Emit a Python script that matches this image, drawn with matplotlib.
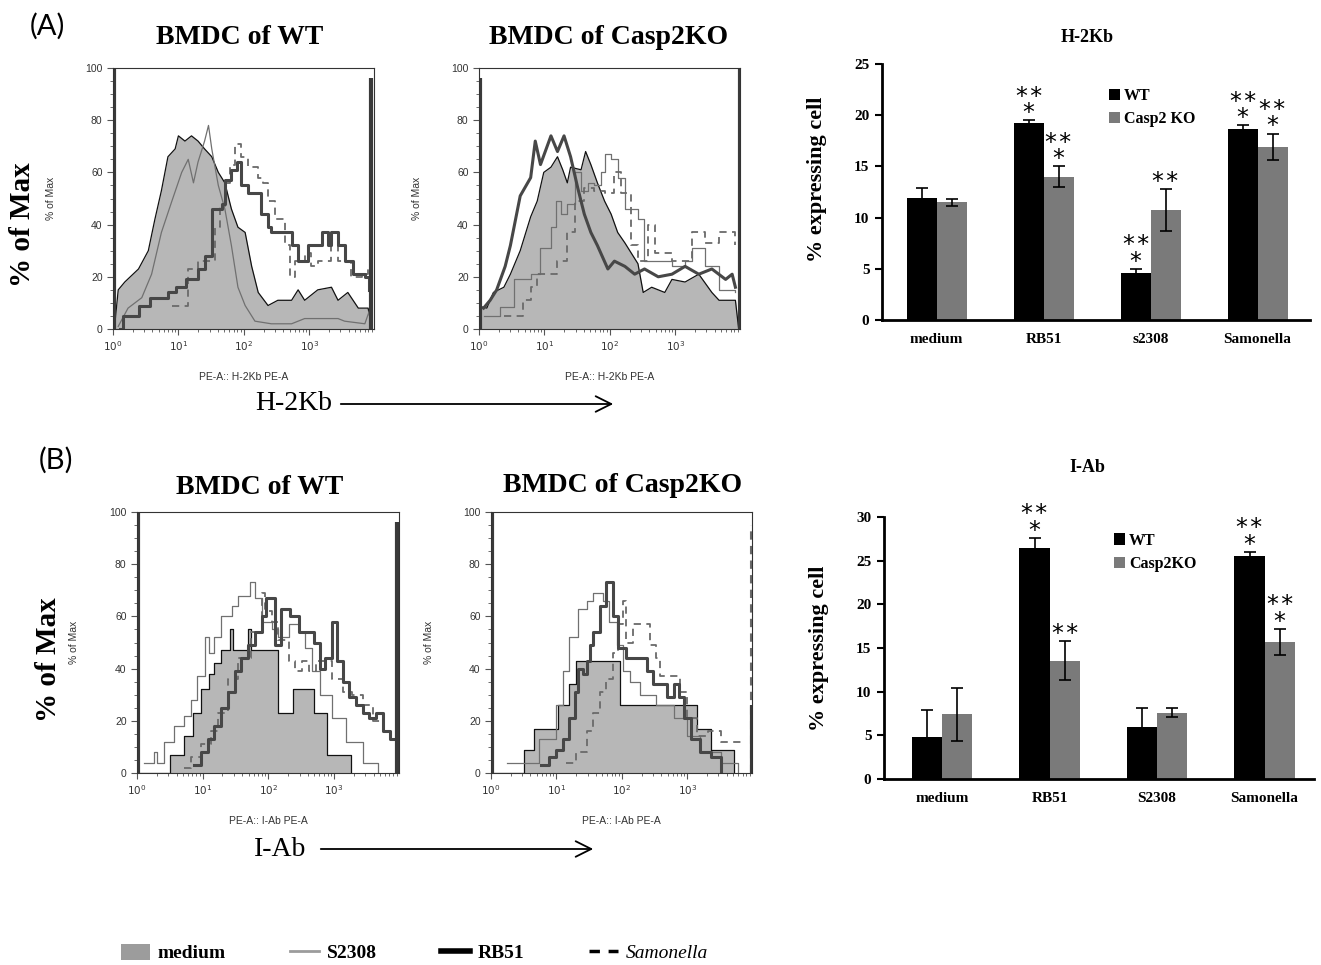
import matplotlib.pyplot as plt
import numpy as np
from matplotlib.lines import Line2D
from matplotlib.patches import Patch, FancyArrowPatch
from matplotlib.ticker import MultipleLocator

W, H = 1321, 965
SERIF = "Liberation Serif"
SANS = "Liberation Sans"

# ---------------- flow histograms (x = log10 PE-A, y = % of max) ----------------
# (A) H-2Kb, WT
a_wt_med_x = [0.0, 0.02, 0.08, 0.18, 0.39, 0.54, 0.64, 0.74, 0.84, 0.95, 1.0, 1.1, 1.2, 1.3, 1.4, 1.51, 1.61, 1.71,
              1.81, 1.91, 2.02, 2.12, 2.22, 2.37, 2.52, 2.73, 2.83, 2.93, 3.13, 3.34, 3.44, 3.59, 3.75, 3.9, 3.96]
a_wt_med_y = [0, 0, 15, 18, 23, 30, 42, 53, 66, 69, 74, 72, 74, 72, 69, 66, 60, 56,
              46, 39, 37, 24, 14, 9, 11, 11, 15, 11, 15, 16, 11, 14, 8, 8, 0]
a_wt_s2308_x = [0.08, 0.23, 0.44, 0.59, 0.74, 0.9, 1.05, 1.15, 1.23, 1.3, 1.4, 1.46, 1.51, 1.61, 1.71, 1.81, 1.91,
                2.02, 2.17, 2.42, 2.73, 2.93, 3.44, 3.54, 3.85, 3.92]
a_wt_s2308_y = [1, 8, 12, 21, 37, 49, 60, 65, 56, 64, 72, 78, 69, 55, 46, 32, 16, 9, 3, 2, 2, 4, 4, 3, 2, 7]
a_wt_rb51_x = [0.1, 0.16, 0.39, 0.56, 0.84, 0.97, 1.12, 1.3, 1.4, 1.51, 1.66, 1.71, 1.81, 1.89, 1.96, 2.07, 2.27,
               2.37, 2.42, 2.73, 2.83, 2.98, 3.19, 3.29, 3.34, 3.44, 3.54, 3.67, 3.85, 3.92]
a_wt_rb51_y = [0, 5, 9, 12, 14, 16, 19, 23, 28, 46, 48, 57, 61, 64, 55, 52, 44, 39, 37, 32, 26, 32, 37, 32, 37, 32,
               26, 21, 20, 15]
a_wt_sam_x = [0.9, 1.15, 1.3, 1.56, 1.63, 1.71, 1.79, 1.86, 1.96, 2.07, 2.22, 2.3, 2.37, 2.47, 2.63, 2.7, 2.78, 2.93,
              3.03, 3.13, 3.34, 3.44, 3.64, 3.8, 3.9]
a_wt_sam_y = [9, 23, 26, 39, 47, 56, 63, 71, 66, 62, 58, 56, 49, 42, 32, 20, 26, 29, 24, 26, 32, 26, 20, 21, 24]

# (A) H-2Kb, Casp2KO
a_ko_med_x = [0.02, 0.04, 0.12, 0.22, 0.38, 0.48, 0.63, 0.79, 0.89, 0.99, 1.1, 1.2, 1.28, 1.35, 1.4, 1.56, 1.63,
              1.71, 1.81, 1.92, 2.02, 2.12, 2.23, 2.33, 2.43, 2.51, 2.64, 2.84, 2.95, 3.15, 3.36, 3.56, 3.67, 3.92,
              3.97]
a_ko_med_y = [0, 8.5, 8, 14, 16, 21, 30, 43, 49, 60, 62, 66, 61, 56, 62, 61, 68, 63, 56, 49, 44, 37, 33, 29, 25,
              14, 16, 14, 19, 18, 21, 14, 11, 11, 0]
a_ko_s2308_x = [0.07, 0.32, 0.53, 0.63, 0.79, 0.94, 1.1, 1.17, 1.25, 1.35, 1.46, 1.56, 1.66, 1.76, 1.87, 1.92, 2.02,
                2.12, 2.23, 2.43, 2.53, 2.95, 3.15, 3.25, 3.46, 3.67, 3.92]
a_ko_s2308_y = [5, 8.5, 19, 19, 21, 31, 39, 49, 44, 48, 60, 53, 56, 55, 60, 67, 65, 58, 46, 42, 26, 24, 26, 31, 24,
                15, 14]
a_ko_rb51_x = [0.07, 0.17, 0.27, 0.4, 0.48, 0.63, 0.79, 0.86, 0.94, 1.1, 1.2, 1.3, 1.4, 1.51, 1.61, 1.71, 1.81, 1.97,
               2.07, 2.23, 2.38, 2.53, 2.74, 2.95, 3.15, 3.36, 3.56, 3.77, 3.87, 3.92]
a_ko_rb51_y = [8, 11, 15, 24, 32, 51, 58, 72, 63, 74, 68, 74, 66, 54, 44, 37, 32, 23, 26, 24, 21, 23, 20, 21, 24, 21,
               23, 19, 21, 16]
a_ko_sam_x = [0.38, 0.53, 0.68, 0.79, 0.89, 1.04, 1.2, 1.35, 1.46, 1.61, 1.76, 1.92, 2.07, 2.17, 2.33, 2.43, 2.59,
              2.69, 2.95, 3.15, 3.25, 3.46, 3.67, 3.92]
a_ko_sam_y = [5, 5, 11, 16, 21, 21, 26, 37, 49, 54, 53, 52, 60, 52, 32, 26, 40, 29, 26, 26, 37, 33, 37, 32]

# (B) I-Ab, WT
b_wt_med_x = [0.0, 0.51, 0.72, 0.85, 0.97, 1.1, 1.18, 1.28, 1.41, 1.46, 1.69, 1.74, 2.15, 2.38, 2.69, 2.9, 3.26]
b_wt_med_y = [0, 7, 14, 23, 32, 38, 42, 47, 55, 47, 55, 47, 23, 32, 23, 7, 0]
b_wt_s2308_x = [0.1, 0.26, 0.31, 0.41, 0.56, 0.72, 0.82, 0.92, 1.03, 1.1, 1.18, 1.28, 1.44, 1.54, 1.72, 1.79, 1.9,
                2.05, 2.15, 2.31, 2.46, 2.56, 2.67, 2.79, 2.97, 3.18, 3.44, 3.67]
b_wt_s2308_y = [4, 8, 4, 12, 18, 22, 28, 37, 52, 46, 52, 60, 64, 68, 73, 67, 58, 55, 52, 57, 54, 48, 39, 30, 21, 12,
                4, 0]
b_wt_rb51_x = [0.87, 0.97, 1.08, 1.18, 1.28, 1.38, 1.49, 1.59, 1.69, 1.79, 1.9, 1.97, 2.1, 2.2, 2.33, 2.46, 2.69,
               2.79, 2.87, 2.97, 3.05, 3.13, 3.23, 3.33, 3.44, 3.54, 3.64, 3.74, 3.85, 3.95]
b_wt_rb51_y = [3, 8, 13, 18, 25, 31, 39, 44, 49, 54, 60, 67, 49, 63, 60, 54, 50, 40, 44, 58, 43, 35, 29, 26, 23, 21,
               23, 16, 13, 13]
b_wt_sam_x = [0.72, 0.82, 0.97, 1.13, 1.23, 1.38, 1.54, 1.74, 1.9, 1.95, 2.05, 2.15, 2.31, 2.41, 2.51, 2.62, 2.72,
              2.97, 3.13, 3.28, 3.44, 3.59, 3.74]
b_wt_sam_y = [2, 6, 11, 16, 23, 36, 44, 54, 69, 62, 58, 51, 43, 39, 43, 39, 43, 36, 31, 30, 26, 20, 16]

# (B) I-Ab, Casp2KO
b_ko_med_x = [0.0, 0.5, 0.66, 1.02, 1.2, 1.3, 1.97, 3.15, 3.36, 3.72]
b_ko_med_y = [0, 9, 17, 26, 34, 43, 26, 17, 9, 0]
b_ko_s2308_x = [0.25, 0.74, 0.99, 1.1, 1.2, 1.33, 1.46, 1.56, 1.71, 1.81, 1.92, 2.02, 2.12, 2.28, 2.53, 2.79, 3.0,
                3.2, 3.51, 3.77]
b_ko_s2308_y = [4, 13, 26, 39, 52, 63, 66, 69, 66, 58, 49, 39, 35, 30, 26, 21, 14, 8, 4, 0]
b_ko_rb51_x = [0.76, 0.89, 0.99, 1.1, 1.2, 1.28, 1.33, 1.4, 1.46, 1.51, 1.56, 1.66, 1.76, 1.87, 1.94, 2.07, 2.38,
               2.48, 2.69, 2.79, 2.87, 2.95, 3.05, 3.2, 3.36, 3.51]
b_ko_rb51_y = [3, 6, 9, 13, 21, 31, 40, 38, 43, 49, 54, 64, 73, 60, 48, 44, 39, 34, 29, 34, 29, 21, 13, 8, 6, 0]
b_ko_sam_x = [1.15, 1.3, 1.46, 1.56, 1.66, 1.76, 1.87, 1.94, 2.02, 2.07, 2.17, 2.33, 2.43, 2.53, 2.58, 2.74, 2.89,
              3.0, 3.15, 3.31, 3.51, 3.82]
b_ko_sam_y = [4, 8, 16, 23, 31, 36, 46, 57, 66, 50, 57, 57, 49, 44, 37, 37, 31, 21, 14, 16, 12, 12]

# edge pile-up spikes: (log10 x, height, which curve)
a_wt_spikes = [(0.01, 100, "RB51"), (3.95, 96, "RB51")]
a_ko_spikes = [(0.01, 96, "RB51"), (3.99, 100, "RB51")]
b_wt_spikes = [(0.01, 100, "RB51"), (3.96, 96, "RB51")]
b_ko_spikes = [(0.01, 100, "RB51"), (3.975, 95, "Samonella"), (3.995, 26, "RB51")]

# ---------------- bar charts (% expressing cell) ----------------
h2kb_cats = ["medium", "RB51", "s2308", "Samonella"]
h2kb_wt = [11.9, 19.2, 4.6, 18.7]
h2kb_wt_err = [1.0, 0.3, 0.4, 0.3]
h2kb_ko = [11.5, 14.0, 10.7, 16.9]
h2kb_ko_err = [0.35, 1.0, 2.05, 1.3]
h2kb_wt_sig = ["", "***", "***", "***"]
h2kb_ko_sig = ["", "***", "**", "***"]

iab_cats = ["medium", "RB51", "S2308", "Samonella"]
iab_wt = [4.8, 26.5, 6.0, 25.5]
iab_wt_err = [3.05, 1.1, 2.1, 0.5]
iab_ko = [7.4, 13.55, 7.6, 15.7]
iab_ko_err = [3.0, 2.2, 0.55, 1.5]
iab_wt_sig = ["", "***", "", "***"]
iab_ko_sig = ["", "**", "", "***"]


def fx(x):
    return x / W


def fy(y):
    return 1 - y / H


def rect(left, top, right, bottom):
    return [fx(left), fy(bottom), (right - left) / W, (bottom - top) / H]


fig = plt.figure(figsize=(W / 100, H / 100), dpi=100)

line_style = {
    "S2308": dict(color="#707070", lw=0.9),
    "RB51": dict(color="#474747", lw=2.2),
    "Samonella": dict(color="#6a6a6a", lw=1.3, ls=(0, (4, 3))),
}


def draw_hist(box, curves, spikes, stepped, marker):
    ax = fig.add_axes(box)
    mx, my = curves["medium"]
    xs = 10 ** np.array(mx)
    med_steps = "medium" in stepped
    ax.fill_between(xs, my, step="post" if med_steps else None, color="#b7b7b7", lw=0)
    ax.plot(xs, my, color="#111111", lw=0.9, drawstyle="steps-post" if med_steps else "default")
    for name in ["S2308", "Samonella", "RB51"]:
        x, y = curves[name]
        ax.plot(10 ** np.array(x), y, drawstyle="steps-post" if name in stepped else "default",
                **line_style[name])
    for d, h, name in spikes:
        st = line_style[name]
        ax.vlines(10 ** d, 0, h, color="#3a3a3a" if name == "RB51" else st["color"],
                  lw=3 if name == "RB51" else 1.5, linestyles=st.get("ls", "solid"))
    ax.set_xscale("log")
    ax.set_xlim(1, 10 ** 3.99)
    ax.set_ylim(0, 100)
    ax.yaxis.set_major_locator(MultipleLocator(20))
    ax.yaxis.set_minor_locator(MultipleLocator(5))
    ax.set_xticks([1, 10, 100, 1000])
    for s in ax.spines.values():
        s.set_linewidth(0.8)
        s.set_color("#333333")
    ax.tick_params(which="both", direction="out", colors="#555555", labelsize=7.5, labelcolor="#333333")
    ax.tick_params(which="major", length=4)
    ax.tick_params(which="minor", length=2)
    for t in ax.get_yticklabels():
        t.set_fontfamily(SANS)
    ax.set_ylabel("% of Max", fontsize=7.5, family=SANS, color="#333333")
    ax.yaxis.set_label_coords(-0.22, 0.5)
    ax.set_xlabel(f"PE-A:: {marker} PE-A", fontsize=7.5, family=SANS, color="#333333")
    ax.xaxis.set_label_coords(0.5, -0.165)
    return ax


draw_hist(rect(113, 68, 374, 329),
          {"medium": (a_wt_med_x, a_wt_med_y), "S2308": (a_wt_s2308_x, a_wt_s2308_y),
           "RB51": (a_wt_rb51_x, a_wt_rb51_y), "Samonella": (a_wt_sam_x, a_wt_sam_y)},
          a_wt_spikes, {"RB51", "Samonella"}, "H-2Kb")
draw_hist(rect(479, 68, 740, 329),
          {"medium": (a_ko_med_x, a_ko_med_y), "S2308": (a_ko_s2308_x, a_ko_s2308_y),
           "RB51": (a_ko_rb51_x, a_ko_rb51_y), "Samonella": (a_ko_sam_x, a_ko_sam_y)},
          a_ko_spikes, {"S2308", "Samonella"}, "H-2Kb")
draw_hist(rect(137, 512, 399, 773),
          {"medium": (b_wt_med_x, b_wt_med_y), "S2308": (b_wt_s2308_x, b_wt_s2308_y),
           "RB51": (b_wt_rb51_x, b_wt_rb51_y), "Samonella": (b_wt_sam_x, b_wt_sam_y)},
          b_wt_spikes, {"medium", "S2308", "RB51", "Samonella"}, "I-Ab")
draw_hist(rect(491, 512, 752, 773),
          {"medium": (b_ko_med_x, b_ko_med_y), "S2308": (b_ko_s2308_x, b_ko_s2308_y),
           "RB51": (b_ko_rb51_x, b_ko_rb51_y), "Samonella": (b_ko_sam_x, b_ko_sam_y)},
          b_ko_spikes, {"medium", "S2308", "RB51", "Samonella"}, "I-Ab")

STAR = "*\u200a*"


def draw_bars(box, cats, wt, wt_err, ko, ko_err, wt_sig, ko_sig, ymax, ko_label, leg_anchor, xlim, ylab_y):
    ax = fig.add_axes(box)
    x = np.arange(len(cats))
    bw = 0.28
    ekw = dict(lw=1.2, capthick=1.2, ecolor="black")
    ax.bar(x - bw / 2, wt, bw, color="black", yerr=wt_err, capsize=4, error_kw=ekw, label="WT", zorder=2)
    ax.bar(x + bw / 2, ko, bw, color="#7a7a7a", yerr=ko_err, capsize=4, error_kw=ekw, label=ko_label, zorder=2)
    for xs, vals, errs, sigs in [(x - bw / 2, wt, wt_err, wt_sig), (x + bw / 2, ko, ko_err, ko_sig)]:
        for xi, v, e, s in zip(xs, vals, errs, sigs):
            if s == "***":
                ax.annotate(STAR + "\n*", (xi, v + e), xytext=(0, -3.5), textcoords="offset points",
                            ha="center", va="bottom", multialignment="center", linespacing=0.6,
                            fontsize=17, family=["DejaVu Sans"])
            elif s == "**":
                ax.annotate(STAR, (xi, v + e), xytext=(0, -3.5), textcoords="offset points",
                            ha="center", va="bottom", fontsize=17, family=["DejaVu Sans"])
    ax.set_xlim(*xlim)
    ax.set_ylim(0, ymax)
    ax.yaxis.set_major_locator(MultipleLocator(5))
    ax.set_xticks(x)
    ax.set_xticklabels(cats)
    for side in ["top", "right"]:
        ax.spines[side].set_visible(False)
    for side in ["left", "bottom"]:
        ax.spines[side].set_linewidth(2)
    ax.tick_params(axis="y", direction="out", length=5, width=1.5, labelsize=11, pad=4)
    ax.tick_params(axis="x", length=0, labelsize=11, pad=9)
    for t in ax.get_xticklabels() + ax.get_yticklabels():
        t.set_fontfamily(SERIF)
        t.set_fontweight("bold")
    ax.set_ylabel("% expressing cell", fontsize=16, family=SERIF, fontweight="bold")
    ax.yaxis.set_label_coords(-0.128, ylab_y)
    ax.legend(loc="upper left", bbox_to_anchor=leg_anchor, frameon=False, borderaxespad=0,
              handlelength=0.7, handleheight=0.7, handletextpad=0.25, labelspacing=0.45,
              prop=dict(family=SERIF, weight="bold", size=11.5))
    return ax


draw_bars(rect(882, 64, 1310, 320), h2kb_cats, h2kb_wt, h2kb_wt_err, h2kb_ko, h2kb_ko_err,
          h2kb_wt_sig, h2kb_ko_sig, 25, "Casp2 KO", (0.515, 0.93), (-0.51, 3.49), 0.55)
draw_bars(rect(884, 517, 1314, 779), iab_cats, iab_wt, iab_wt_err, iab_ko, iab_ko_err,
          iab_wt_sig, iab_ko_sig, 30, "Casp2KO", (0.52, 0.965), (-0.54, 3.46), 0.5)

# titles and panel labels
tkw = dict(family=SERIF, fontweight="bold", ha="center", va="center")
fig.text(fx(240), fy(38), "BMDC of WT", fontsize=20, **tkw)
fig.text(fx(609), fy(37), "BMDC of Casp2KO", fontsize=20, **tkw)
fig.text(fx(260), fy(487), "BMDC of WT", fontsize=20, **tkw)
fig.text(fx(623), fy(485), "BMDC of Casp2KO", fontsize=20, **tkw)
fig.text(fx(1087), fy(37), "H-2Kb", fontsize=13, **tkw)
fig.text(fx(1087), fy(467), "I-Ab", fontsize=13, **tkw)
fig.text(fx(22), fy(225), "% of Max", fontsize=21, rotation=90, **tkw)
fig.text(fx(49), fy(660), "% of Max", fontsize=21, rotation=90, **tkw)
fig.text(fx(47), fy(26), "(A)", fontsize=21, family="Lato", ha="center", va="center")
fig.text(fx(56), fy(460), "(B)", fontsize=21, family="Lato", ha="center", va="center")

# marker arrows
fig.text(fx(294), fy(404), "H-2Kb", fontsize=20, family=SERIF, ha="center", va="center")
fig.text(fx(280), fy(849), "I-Ab", fontsize=20, family=SERIF, ha="center", va="center")
for x0, x1, y in [(338, 616, 404), (318, 596, 849)]:
    fig.add_artist(FancyArrowPatch((fx(x0), fy(y)), (fx(x1), fy(y)), transform=fig.transFigure,
                                   arrowstyle="->", mutation_scale=28, lw=1.3, color="black"))

# bottom legend
handles = [
    Patch(facecolor="#9c9c9c", edgecolor="none"),
    Line2D([], [], color="#9c9c9c", lw=2),
    Line2D([], [], color="black", lw=4),
    Line2D([], [], color="black", lw=2.5, ls=(0, (3, 2.5))),
]
leg = fig.legend(handles, ["medium", "S2308", "RB51", "Samonella"], loc="center left",
                 bbox_to_anchor=(fx(103), fy(953)), ncol=4, frameon=False, handlelength=1.5,
                 handleheight=0.9, handletextpad=0.4, columnspacing=3.3,
                 prop=dict(family=SERIF, weight="bold", size=14))
leg.get_texts()[3].set_fontstyle("italic")
leg.get_texts()[3].set_fontweight("normal")

fig.savefig("out.png", dpi=100)
